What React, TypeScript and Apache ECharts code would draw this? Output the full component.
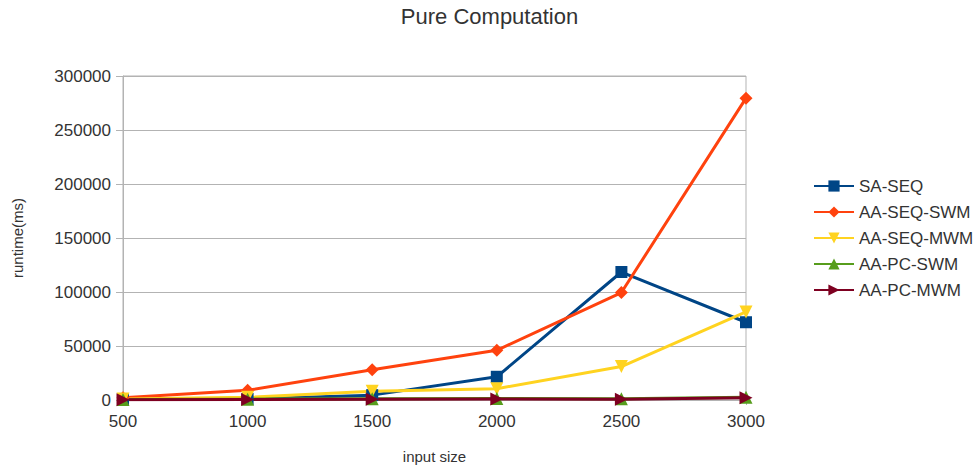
import React, { useEffect, useRef } from "react";
import * as echarts from "echarts";

const inputSizes = [500, 1000, 1500, 2000, 2500, 3000];
const saSeq = [500, 1000, 4500, 21500, 118500, 72000];
const aaSeqSwm = [2000, 9000, 28000, 46000, 99500, 279500];
const aaSeqMwm = [1000, 2500, 8000, 10500, 31000, 81500];
const aaPcSwm = [500, 800, 1200, 1500, 1200, 2500];
const aaPcMwm = [300, 500, 800, 1000, 800, 2000];

const seriesDefs = [
  { name: "SA-SEQ", data: saSeq, color: "#004586", symbol: "rect", rotate: 0, size: 12 },
  { name: "AA-SEQ-SWM", data: aaSeqSwm, color: "#ff420e", symbol: "diamond", rotate: 0, size: 13 },
  { name: "AA-SEQ-MWM", data: aaSeqMwm, color: "#ffd320", symbol: "triangle", rotate: 180, size: 13 },
  { name: "AA-PC-SWM", data: aaPcSwm, color: "#579d1c", symbol: "triangle", rotate: 0, size: 13 },
  { name: "AA-PC-MWM", data: aaPcMwm, color: "#7e0021", symbol: "triangle", rotate: -90, size: 13 },
];

const FONT = "Liberation Sans";

export default function App() {
  const ref = useRef<HTMLDivElement>(null);
  useEffect(() => {
    if (!ref.current) return;
    const chart = echarts.init(ref.current, undefined, { renderer: "svg" });
    chart.setOption({
      animation: false,
      backgroundColor: "#ffffff",
      title: {
        text: "Pure Computation",
        left: "center",
        top: 0,
        textStyle: { fontFamily: FONT, fontSize: 22, fontWeight: "normal", color: "#333333" },
      },
      legend: {
        orient: "vertical",
        left: 808,
        top: 172,
        itemWidth: 40,
        itemHeight: 14,
        itemGap: 8,
        textStyle: { fontFamily: FONT, fontSize: 17, lineHeight: 18, color: "#333333" },
        data: seriesDefs.map((s) => s.name),
      },
      grid: {
        left: 123,
        right: 233,
        top: 76,
        bottom: 69,
        show: true,
        borderColor: "#b3b3b3",
        borderWidth: 1,
      },
      xAxis: {
        type: "value",
        min: 500,
        max: 3000,
        interval: 500,
        name: "input size",
        nameLocation: "middle",
        nameGap: 49,
        nameTextStyle: { fontFamily: FONT, fontSize: 15, color: "#333333" },
        axisLine: { lineStyle: { color: "#b3b3b3" } },
        axisTick: { show: true, length: 5, lineStyle: { color: "#b3b3b3" } },
        axisLabel: {
          fontFamily: FONT,
          fontSize: 17,
          color: "#333333",
          margin: 13,
          formatter: (v: number) => String(v),
        },
        splitLine: { show: false },
      },
      yAxis: {
        type: "value",
        min: 0,
        max: 300000,
        interval: 50000,
        name: "runtime(ms)",
        nameLocation: "middle",
        nameGap: 98,
        nameTextStyle: { fontFamily: FONT, fontSize: 15, color: "#333333" },
        axisLine: { show: true, lineStyle: { color: "#b3b3b3" } },
        axisTick: { show: true, length: 7, lineStyle: { color: "#b3b3b3" } },
        axisLabel: {
          fontFamily: FONT,
          fontSize: 17,
          color: "#333333",
          margin: 12,
          formatter: (v: number) => String(v),
        },
        splitLine: { show: true, lineStyle: { color: "#b3b3b3" } },
      },
      series: seriesDefs.map((s) => ({
        name: s.name,
        type: "line",
        data: inputSizes.map((x, i) => [x, s.data[i]]),
        symbol: s.symbol,
        symbolRotate: s.rotate,
        symbolSize: s.size,
        showAllSymbol: true,
        lineStyle: { color: s.color, width: 3 },
        itemStyle: { color: s.color },
        emphasis: { disabled: true },
      })),
    });
    return () => chart.dispose();
  }, []);
  return (
    <div
      ref={ref}
      style={{ position: "absolute", left: 0, top: 0, width: 979, height: 469 }}
    />
  );
}
